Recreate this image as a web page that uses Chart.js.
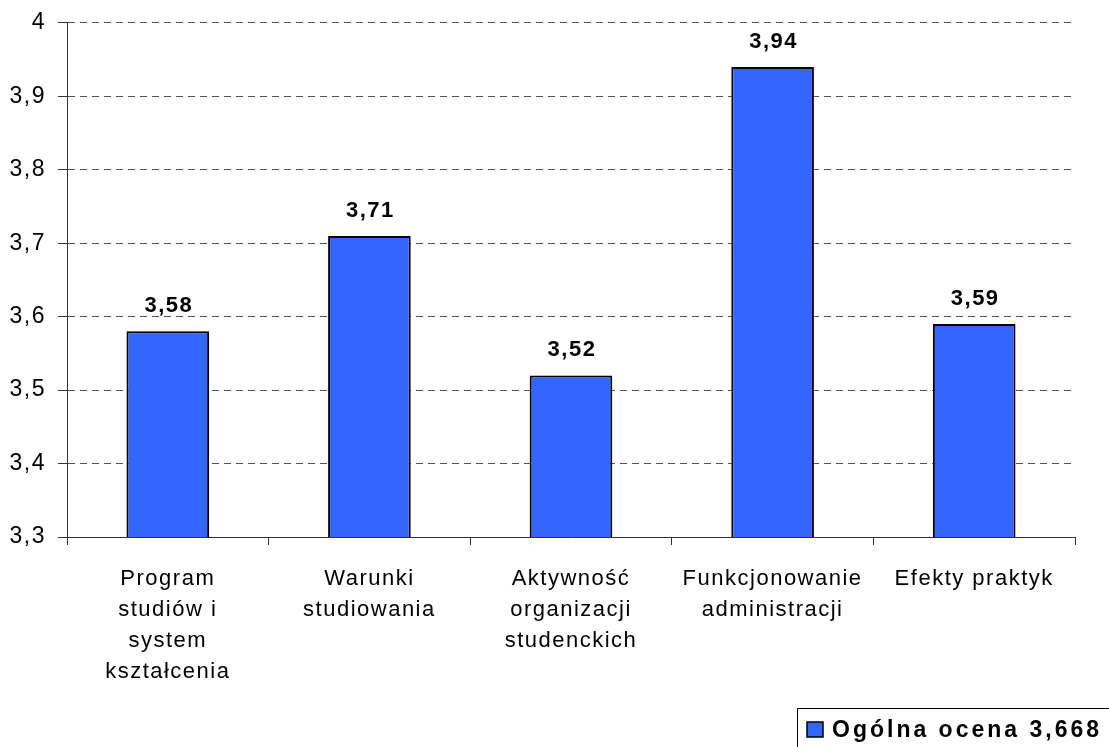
<!DOCTYPE html>
<html>
<head>
<meta charset="utf-8">
<script src="https://cdn.jsdelivr.net/npm/chart.js@4.4.0/dist/chart.umd.min.js"></script>
<style>
  html, body { margin: 0; padding: 0; background: #fff; }
  #wrap { width: 1109px; height: 747px; }
</style>
</head>
<body>
<div id="wrap"><canvas id="ocenyChart" width="1109" height="747"></canvas></div>
<script>
// --- DANE ---
const categories = [
    ['Program', 'studiów i', 'system', 'kształcenia'],
    ['Warunki', 'studiowania'],
    ['Aktywność', 'organizacji', 'studenckich'],
    ['Funkcjonowanie', 'administracji'],
    ['Efekty praktyk']
];
const values = [3.58, 3.71, 3.52, 3.94, 3.59];
const yTickLabels = ['3,3', '3,4', '3,5', '3,6', '3,7', '3,8', '3,9', '4'];
const seriesLabel = 'Ogólna ocena 3,668';

const FONT = "'Liberation Sans', Arial, sans-serif";
const barBlue = '#3366FF';

// lekko rozstrzelony tekst jak w oryginale
const spacing = {
    id: 'spacing',
    beforeInit(chart) { chart.ctx.letterSpacing = '1.5px'; },
    beforeDraw(chart) { chart.ctx.letterSpacing = '1.5px'; }
};

// etykiety nad słupkami
const valueLabels = {
    id: 'valueLabels',
    afterDatasetsDraw(chart) {
        const ctx = chart.ctx;
        const meta = chart.getDatasetMeta(0);
        ctx.save();
        ctx.font = 'bold 22px ' + FONT;
        ctx.letterSpacing = '1.5px';
        ctx.fillStyle = '#000';
        ctx.textAlign = 'center';
        ctx.textBaseline = 'alphabetic';
        meta.data.forEach((bar, i) => {
            const txt = values[i].toFixed(2).replace('.', ',');
            ctx.fillText(txt, bar.x + 1, bar.y - 19);
        });
        ctx.restore();
    }
};

// legenda w ramce, prawy dolny róg
const boxLegend = {
    id: 'boxLegend',
    afterDraw(chart) {
        const ctx = chart.ctx;
        ctx.save();
        ctx.strokeStyle = '#000';
        ctx.lineWidth = 1;
        ctx.beginPath();
        ctx.moveTo(797.5, 760);
        ctx.lineTo(797.5, 708.5);
        ctx.lineTo(1120, 708.5);
        ctx.stroke();

        ctx.fillStyle = barBlue;
        ctx.fillRect(807, 722, 16, 15);
        ctx.strokeStyle = '#000';
        ctx.lineWidth = 1.5;
        ctx.strokeRect(807, 722, 16, 15);

        ctx.font = 'bold 23px ' + FONT;
        ctx.letterSpacing = '3px';
        ctx.fillStyle = '#000';
        ctx.textAlign = 'left';
        ctx.textBaseline = 'alphabetic';
        ctx.fillText(seriesLabel, 832, 737);
        ctx.restore();
    }
};

new Chart(document.getElementById('ocenyChart'), {
    type: 'bar',
    data: {
        labels: categories,
        datasets: [{
            label: seriesLabel,
            data: values,
            backgroundColor: barBlue,
            borderColor: '#000',
            borderWidth: 2,
            borderSkipped: 'bottom',
            categoryPercentage: 1,
            barPercentage: 0.41
        }]
    },
    options: {
        responsive: false,
        animation: false,
        devicePixelRatio: 1,
        layout: { padding: { left: 0, right: 34, top: 19, bottom: 0 } },
        plugins: {
            legend: { display: false },
            tooltip: { enabled: false }
        },
        scales: {
            y: {
                min: 3.3,
                max: 4,
                ticks: {
                    stepSize: 0.1,
                    color: '#000',
                    padding: 12,
                    font: { family: FONT, size: 23, lineHeight: 0.95 },
                    callback: (v, i) => yTickLabels[i]
                },
                grid: {
                    color: '#555',
                    lineWidth: 1,
                    tickLength: 9,
                    tickColor: '#333',
                    tickBorderDash: [],
                    drawOnChartArea: true
                },
                border: { display: true, color: '#333', width: 1, dash: [7, 5] },
                afterFit(scale) { scale.width = 67; }
            },
            x: {
                ticks: {
                    color: '#000',
                    padding: 18,
                    maxRotation: 0,
                    autoSkip: false,
                    font: { family: FONT, size: 22, lineHeight: 1.41 }
                },
                grid: {
                    offset: true,
                    drawOnChartArea: false,
                    tickLength: 8,
                    color: '#333'
                },
                border: { display: true, color: '#333', width: 1 },
                afterFit(scale) { scale.height = 210; }
            }
        }
    },
    plugins: [spacing, valueLabels, boxLegend]
});
</script>
</body>
</html>
